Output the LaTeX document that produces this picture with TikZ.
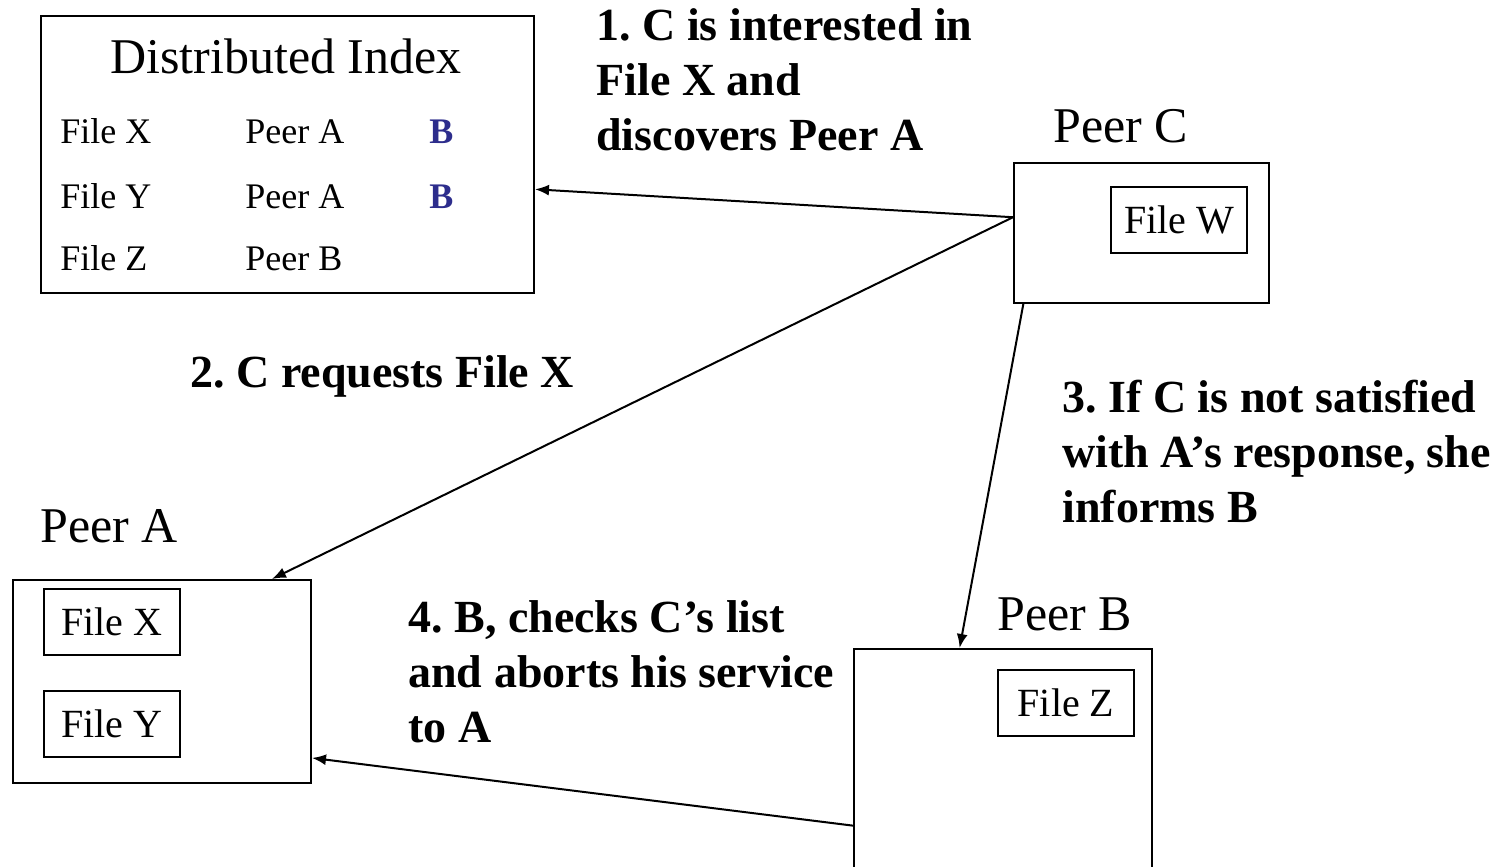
\documentclass[tikz,border=0pt]{standalone}
\usepackage{fontspec}
\setmainfont{Liberation Serif}
\usetikzlibrary{arrows.meta}
\definecolor{idxblue}{RGB}{45,45,140}
\frenchspacing
\begin{document}
\begin{tikzpicture}[x=0.5pt,y=-0.5pt,
  box/.style={draw, line width=1pt, anchor=north west, inner sep=0pt},
  filebox/.style={box, minimum width=68pt, minimum height=33pt, font=\fontsize{20}{24}\selectfont},
  title/.style={anchor=base west, inner sep=0pt, font=\fontsize{25}{30}\selectfont},
  row/.style={anchor=base west, inner sep=0pt, font=\fontsize{18}{22}\selectfont},
  note/.style={anchor=base west, inner sep=0pt, align=left, font=\fontsize{23}{27.5}\selectfont\bfseries},
  arr/.style={-{Latex[length=7pt,width=5.5pt]}, line width=1pt}]
\clip (0,0) rectangle (1512,867);
\fill[white] (0,0) rectangle (1512,867);
% Distributed index
\node[box, minimum width=246.5pt, minimum height=138.5pt] (di) at (40,15) {};
\node[title, anchor=base] (dititle) at (286,73) {Distributed Index};
\node[row] (r1a) at (60,143) {File X};
\node[row] (r1b) at (245,143) {Peer A};
\node[row, text=idxblue, font=\fontsize{18}{22}\selectfont\bfseries] (r1c) at (429,143) {B};
\node[row] (r2a) at (60,208) {File Y};
\node[row] (r2b) at (245,208) {Peer A};
\node[row, text=idxblue, font=\fontsize{18}{22}\selectfont\bfseries] (r2c) at (429,208) {B};
\node[row] (r3a) at (60,270) {File Z};
\node[row] (r3b) at (245,270) {Peer B};
% Peer C
\node[title] (pclabel) at (1053,142) {Peer C};
\node[box, minimum width=127.5pt, minimum height=70pt] (pc) at (1013,162) {};
\node[filebox] (fw) at (1110,186) {File W};
% Peer A
\node[title] (palabel) at (40,542) {Peer A};
\node[box, minimum width=149pt, minimum height=101.5pt] (pa) at (12,579) {};
\node[filebox] (fx) at (43,588) {File X};
\node[filebox] (fy) at (43,690) {File Y};
% Peer B
\node[title] (pblabel) at (997,630) {Peer B};
\node[box, minimum width=149pt, minimum height=125pt] (pb) at (853,648) {};
\node[filebox] (fz) at (997,669) {File Z};
% notes (base = baseline of last line)
\node[note] (n1) at (596,150) {1. C is interested in\\File X and\\discovers Peer A};
\node[note] (n2) at (190,387) {2. C requests File X};
\node[note] (n3) at (1062,522) {3. If C is not satisfied\\with A’s response, she\\informs B};
\node[note] (n4) at (408,742) {4. B, checks C’s list\\and aborts his service\\to A};
% arrows
\draw[arr] (pc.173.3) -- (di.352.5);
\draw[arr] (pc.173.3) -- (pa.43);
\draw[arr] (pc.211.7) -- (pb.109.4);
\draw[arr] (pb.199.9) -- (pa.333.7);
\end{tikzpicture}
\end{document}
